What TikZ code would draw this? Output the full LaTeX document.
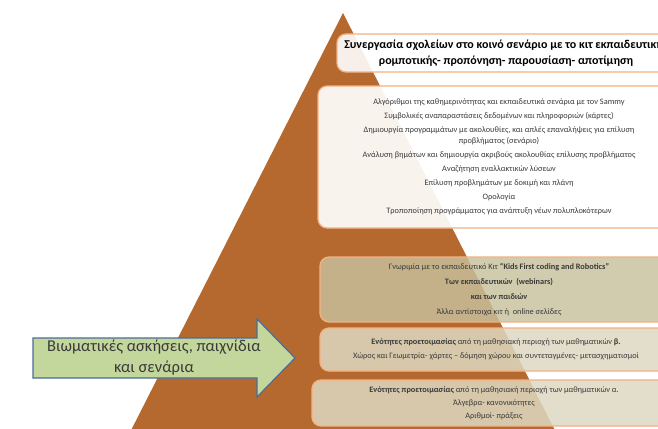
\documentclass[tikz,border=0pt]{standalone}
\usepackage{fontspec}
\setmainfont{Carlito}
\usetikzlibrary{positioning}
\definecolor{pyrbrown}{HTML}{B5692F}
\definecolor{boxline}{HTML}{F4B183}
\definecolor{khaki}{HTML}{C8C19D}
\definecolor{tanbox}{HTML}{DDD9C3}
\definecolor{arrowgreen}{HTML}{C3D69B}
\definecolor{arrowline}{HTML}{4A6D9A}
\definecolor{txt}{HTML}{3A3A3A}
\tikzset{
  level/.style={draw=boxline, line width=1.3pt, rounded corners=9pt, fill opacity=0.9,
    text opacity=1, draw opacity=1, align=center, text=txt, inner sep=0pt,
    font=\fontsize{8.3}{11}\selectfont},
}
\begin{document}
\begin{tikzpicture}[x=1pt, y=-1pt]
        \useasboundingbox (0,0) rectangle (658,428);
        \clip (0,0) rectangle (658,428);
        \fill [white] (0,0) rectangle (658,428);
        \coordinate (apex) at (343,13);
        \fill [pyrbrown] (apex) -- (566.5,453) -- (119.5,453) -- cycle;
        \node [level, fill=white, minimum width=338pt, minimum height=38pt,
            font=\fontsize{12}{16.5}\selectfont\bfseries, text=black] (coop) at (506,53)
            {Συνεργασία σχολείων στο κοινό σενάριο με το κιτ εκπαιδευτικής\\
             ρομποτικής- προπόνηση- παρουσίαση- αποτίμηση};
        \node [level, fill=white, fill opacity=0.92, minimum width=362pt, minimum height=142pt] (skills) at (499,157)
            {Αλγόριθμοι της καθημερινότητας και εκπαιδευτικά σενάρια με τον Sammy\\[3pt]
             Συμβολικές αναπαραστάσεις δεδομένων και πληροφοριών (κάρτες)\\[3pt]
             Δημιουργία προγραμμάτων με ακολουθίες, και απλές επαναλήψεις για επίλυση\\
             προβλήματος (σενάριο)\\[3pt]
             Ανάλυση βημάτων και δημιουργία ακριβούς ακολουθίας επίλυσης προβλήματος\\[3pt]
             Αναζήτηση εναλλακτικών λύσεων\\[3pt]
             Επίλυση προβλημάτων με δοκιμή και πλάνη\\[3pt]
             Ορολογία\\[3pt]
             Τροποποίηση προγράμματος για ανάπτυξη νέων πολυπλοκότερων};
        \node [level, fill=khaki, fill opacity=0.82, minimum width=358pt, minimum height=65pt] (kit) at (499,289.5)
            {Γνωριμία με το εκπαιδευτικό Κιτ \textbf{“Kids First coding and Robotics”}\\[4pt]
             \textbf{Των εκπαιδευτικών\ \ (webinars)}\\[4pt]
             \textbf{και των παιδιών}\\[4pt]
             Άλλα αντίστοιχα κιτ ή\ \ online σελίδες};
        \node [level, fill=tanbox, fill opacity=0.85, minimum width=352pt, minimum height=43pt] (mathb) at (496,349.5)
            {\textbf{Ενότητες προετοιμασίας} από τη μαθησιακή περιοχή των μαθηματικών \textbf{β.}\\[3pt]
             Χώρος και Γεωμετρία- χάρτες – δόμηση χώρου και συντεταγμένες- μετασχηματισμοί};
        \node [level, fill=tanbox, fill opacity=0.85, minimum width=364pt, minimum height=46pt,
            font=\fontsize{8.3}{13}\selectfont] (matha) at (494,403)
            {\textbf{Ενότητες προετοιμασίας} από τη μαθησιακή περιοχή των μαθηματικών α.\\
             Άλγεβρα- κανονικότητες\\
             Αριθμοί- πράξεις};
        \draw [arrowline, fill=arrowgreen, line width=1.2pt] (33,338) -- (257,338) -- (257,319) -- (295,358)
            -- (257,397) -- (257,378) -- (33,378) -- cycle;
        \node [align=center, text=txt, font=\fontsize{16.5}{21}\selectfont] (games) at (154,358)
            {Βιωματικές ασκήσεις, παιχνίδια\\ και σενάρια};
    \end{tikzpicture}
\end{document}
